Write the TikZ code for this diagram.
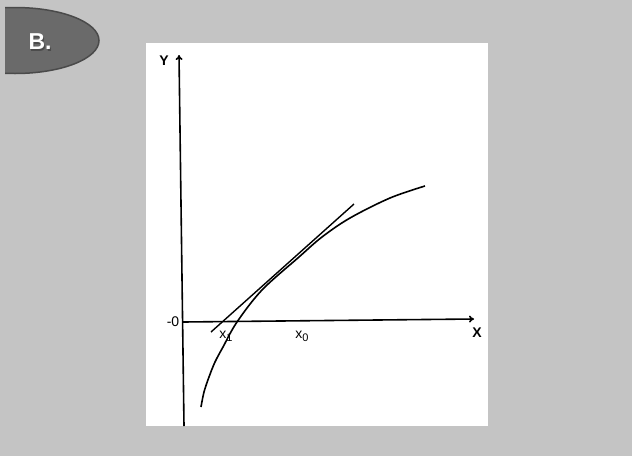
\documentclass[tikz,border=0pt]{standalone}
\usepackage{fontspec}
\setmainfont{Liberation Sans}
\usetikzlibrary{arrows.meta}
\definecolor{bggray}{HTML}{C4C4C4}
\definecolor{ovalgray}{HTML}{6A6A6A}
\definecolor{ovaledge}{HTML}{4A4A4A}
\begin{document}
\begin{tikzpicture}[x=1pt,y=-1pt,
  axis/.style={line width=1.6pt,-{To[length=5pt,width=7pt]}},
  curvestyle/.style={line width=1.6pt},
  lbl/.style={font=\bfseries\fontsize{14}{15}\selectfont, inner sep=0pt},
  sublbl/.style={font=\fontsize{14}{15}\selectfont, inner sep=0pt},
  badgetext/.style={font=\bfseries\fontsize{23}{24}\selectfont, inner sep=0pt}]
\useasboundingbox (0,0) rectangle (632,456);
\fill[bggray] (0,0) rectangle (632,456);
% oval badge
\begin{scope}
\clip (5,0) rectangle (632,456);
\fill[ovalgray, draw=ovaledge, line width=1.5pt] (15,40.5) ellipse [x radius=84, y radius=33];
\end{scope}
\node[badgetext, text=black!70, xshift=1.2pt, yshift=-1.2pt] at (40,42) {B.};
\node (badge) [badgetext, text=white] at (40,42) {B.};
% white panel
\fill[white] (146,43) rectangle (488,426);
% axes
\coordinate (ybot) at (184,426);
\coordinate (ytop) at (179,55);
\coordinate (xleft) at (183,322);
\coordinate (xright) at (474,319);
\draw[axis] (ybot) -- (ytop);
\draw[axis] (xleft) -- (xright);
% labels
\node (ylab) [lbl] at (164,61) {Y};
\node (xlab) [lbl] at (477,333) {X};
\node (zero) [sublbl] at (173,322) {-0};
\node (x1) [sublbl] at (226,336) {x\raisebox{-3pt}{\fontsize{11}{11}\selectfont 1}};
\node (x0) [sublbl] at (302,336) {x\raisebox{-3pt}{\fontsize{11}{11}\selectfont 0}};
% curve
\draw[curvestyle] plot[smooth, tension=0.55] coordinates {
  (201,407) (204,392) (209,377) (215,362) (223,347) (237,322) (262,290) (299,257)
  (322,237) (350,218) (390,198) (425,186)};
% tangent line
\coordinate (tA) at (211,332);
\coordinate (tB) at (354,204);
\draw[line width=1.4pt] (tA) -- (tB);
\end{tikzpicture}
\end{document}
